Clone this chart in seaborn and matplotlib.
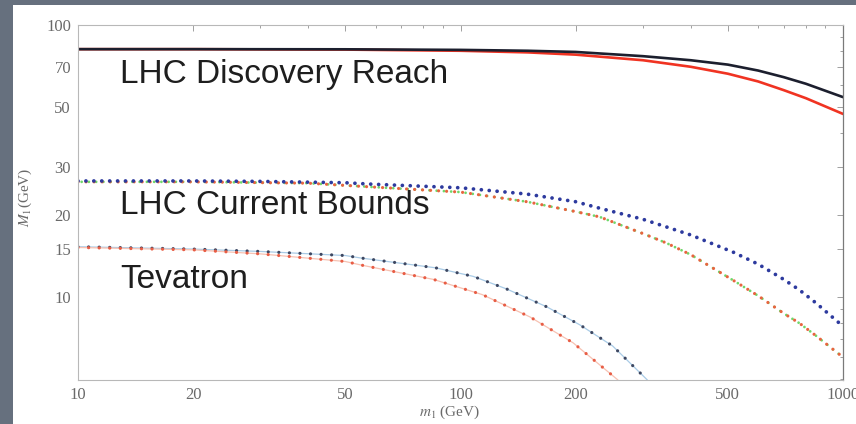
import matplotlib
matplotlib.use("Agg")
import matplotlib.pyplot as plt
from matplotlib.patches import Rectangle
from matplotlib.ticker import FixedLocator, FixedFormatter, NullFormatter
import seaborn as sns

# ---- data -------------------------------------------------------------
# LHC discovery reach (solid curves)
disc_m = [10, 20, 50, 100, 150, 200, 300, 400, 500, 600, 700, 800, 1000]
disc_black = [81.5, 81.5, 81.4, 81.0, 80.4, 79.6, 76.8, 74.2, 71.5, 68.0, 64.3, 60.8, 54.3]
disc_red = [81.5, 81.5, 81.2, 80.4, 79.3, 77.8, 74.2, 70.2, 66.2, 62.0, 57.6, 53.8, 47.1]

# LHC current bounds (dotted curves)
lhc_m_up = [10, 20, 30, 50, 58, 100, 149, 200, 231, 300, 345, 400, 517, 600, 700, 770, 850, 1000]
lhc_up = [26.7, 26.7, 26.6, 26.3, 26.0, 25.2, 23.9, 22.4, 21.2, 19.3, 18.1, 16.9, 14.6, 13.2, 11.6, 10.6, 9.5, 7.8]
lhc_m_lo = [10, 20, 40, 58, 100, 149, 200, 231, 300, 345, 400, 517, 600, 700, 770, 850, 1000]
lhc_lo = [26.5, 26.5, 26.2, 25.4, 24.3, 22.4, 20.6, 19.7, 17.1, 15.8, 14.3, 11.5, 10.1, 8.7, 8.0, 7.2, 6.0]

# Tevatron bounds (dotted curves)
tev_m_blue = [10, 20, 30, 50, 55, 86, 108, 132, 168, 205, 250, 308]
tev_blue = [15.3, 15.0, 14.7, 14.2, 13.9, 12.8, 11.9, 10.7, 9.2, 7.9, 6.6, 4.95]
tev_m_red = [10, 20, 30, 50, 55, 85, 114, 152, 197, 258]
tev_red = [15.2, 14.9, 14.4, 13.5, 13.1, 11.6, 10.2, 8.44, 6.78, 4.95]

x_ticks = [10, 20, 50, 100, 200, 500, 1000]
y_ticks = [10, 15, 20, 30, 50, 70, 100]

# ---- style ------------------------------------------------------------
sns.set_theme(style="white")
plt.rcParams["font.family"] = ["Liberation Sans", "DejaVu Sans"]
plt.rcParams["mathtext.fontset"] = "stix"

fig = plt.figure(figsize=(8.56, 4.24), dpi=100)
fig.patch.set_facecolor("#66707e")
fig.patches.append(Rectangle((13 / 856, 0), 1 - 13 / 856, 1 - 5 / 424,
                             transform=fig.transFigure, facecolor="white",
                             edgecolor="none", zorder=-10))

ax = fig.add_axes([78 / 856, 1 - 380 / 424, 765 / 856, 355 / 424])
ax.set_zorder(1)
ax.set_facecolor("white")
ax.set_xscale("log")
ax.set_yscale("log")

dot = dict(dash_capstyle="round", solid_capstyle="round")

# Tevatron: thin pale guide line with dark dots on top
sns.lineplot(x=tev_m_blue, y=tev_blue, ax=ax, color="#a9cbe6", linewidth=0.9)
sns.lineplot(x=tev_m_blue, y=tev_blue, ax=ax, color="#3d4761", linewidth=2.3,
             linestyle=(0, (0.01, 3.3)), **dot)
sns.lineplot(x=tev_m_red, y=tev_red, ax=ax, color="#f7c2b3", linewidth=0.9)
sns.lineplot(x=tev_m_red, y=tev_red, ax=ax, color="#e85d45", linewidth=2.3,
             linestyle=(0, (0.01, 3.3)), **dot)

# LHC current bounds
sns.lineplot(x=lhc_m_lo, y=lhc_lo, ax=ax, color="#6fd86a", linewidth=2.0,
             linestyle=(1.3, (0.01, 2.6)), **dot)
sns.lineplot(x=lhc_m_lo, y=lhc_lo, ax=ax, color="#e8643f", linewidth=2.3,
             linestyle=(0, (0.01, 2.5)), **dot)
sns.lineplot(x=lhc_m_up, y=lhc_up, ax=ax, color="#2d3a9e", linewidth=2.7,
             linestyle=(0, (0.01, 2.1)), **dot)

# LHC discovery reach
sns.lineplot(x=disc_m, y=disc_red, ax=ax, color="#f03322", linewidth=1.9)
sns.lineplot(x=disc_m, y=disc_black, ax=ax, color="#1c1f2e", linewidth=1.9)

ax.set_xlim(10, 1000)
ax.set_ylim(4.95, 100)

# ---- ticks & frame ----------------------------------------------------
tick_col = "#6a6a6a"
ax.xaxis.set_major_locator(FixedLocator(x_ticks))
ax.xaxis.set_major_formatter(FixedFormatter([str(v) for v in x_ticks]))
ax.xaxis.set_minor_formatter(NullFormatter())
ax.yaxis.set_major_locator(FixedLocator(y_ticks))
ax.yaxis.set_major_formatter(FixedFormatter([str(v) for v in y_ticks]))
ax.yaxis.set_minor_formatter(NullFormatter())
ax.tick_params(which="both", direction="in", top=True, right=True,
               color="#a0a0a0", width=0.7)
ax.tick_params(which="major", length=4, labelsize=12, labelcolor=tick_col, pad=5)
ax.tick_params(which="minor", length=2)
for lab in ax.get_xticklabels() + ax.get_yticklabels():
    lab.set_family(["Liberation Serif", "DejaVu Serif"])
for side in ["left", "bottom", "top"]:
    ax.spines[side].set_color("#b8b8b8")
    ax.spines[side].set_linewidth(0.8)
ax.spines["right"].set_color("#7a7a7a")
ax.spines["right"].set_linewidth(0.9)

ax.set_xlabel("$m_1$ (GeV)", fontsize=11, color=tick_col,
              family=["Liberation Serif", "DejaVu Serif"])
ax.set_ylabel("$M_1$(GeV)", fontsize=11, color=tick_col,
              family=["Liberation Serif", "DejaVu Serif"])
ax.xaxis.set_label_coords(0.486, -0.068)
ax.yaxis.set_label_coords(-0.058, 0.515)

# ---- annotations ------------------------------------------------------
txt = dict(fontsize=24, color="#1e1e1e", ha="left", va="baseline")
ax.text(12.9, 61.2, "LHC Discovery Reach", **txt)
ax.text(12.9, 20.2, "LHC Current Bounds", **txt)
ax.text(12.9, 10.8, "Tevatron", **txt)

fig.savefig("out.png", dpi=100, facecolor=fig.get_facecolor())
